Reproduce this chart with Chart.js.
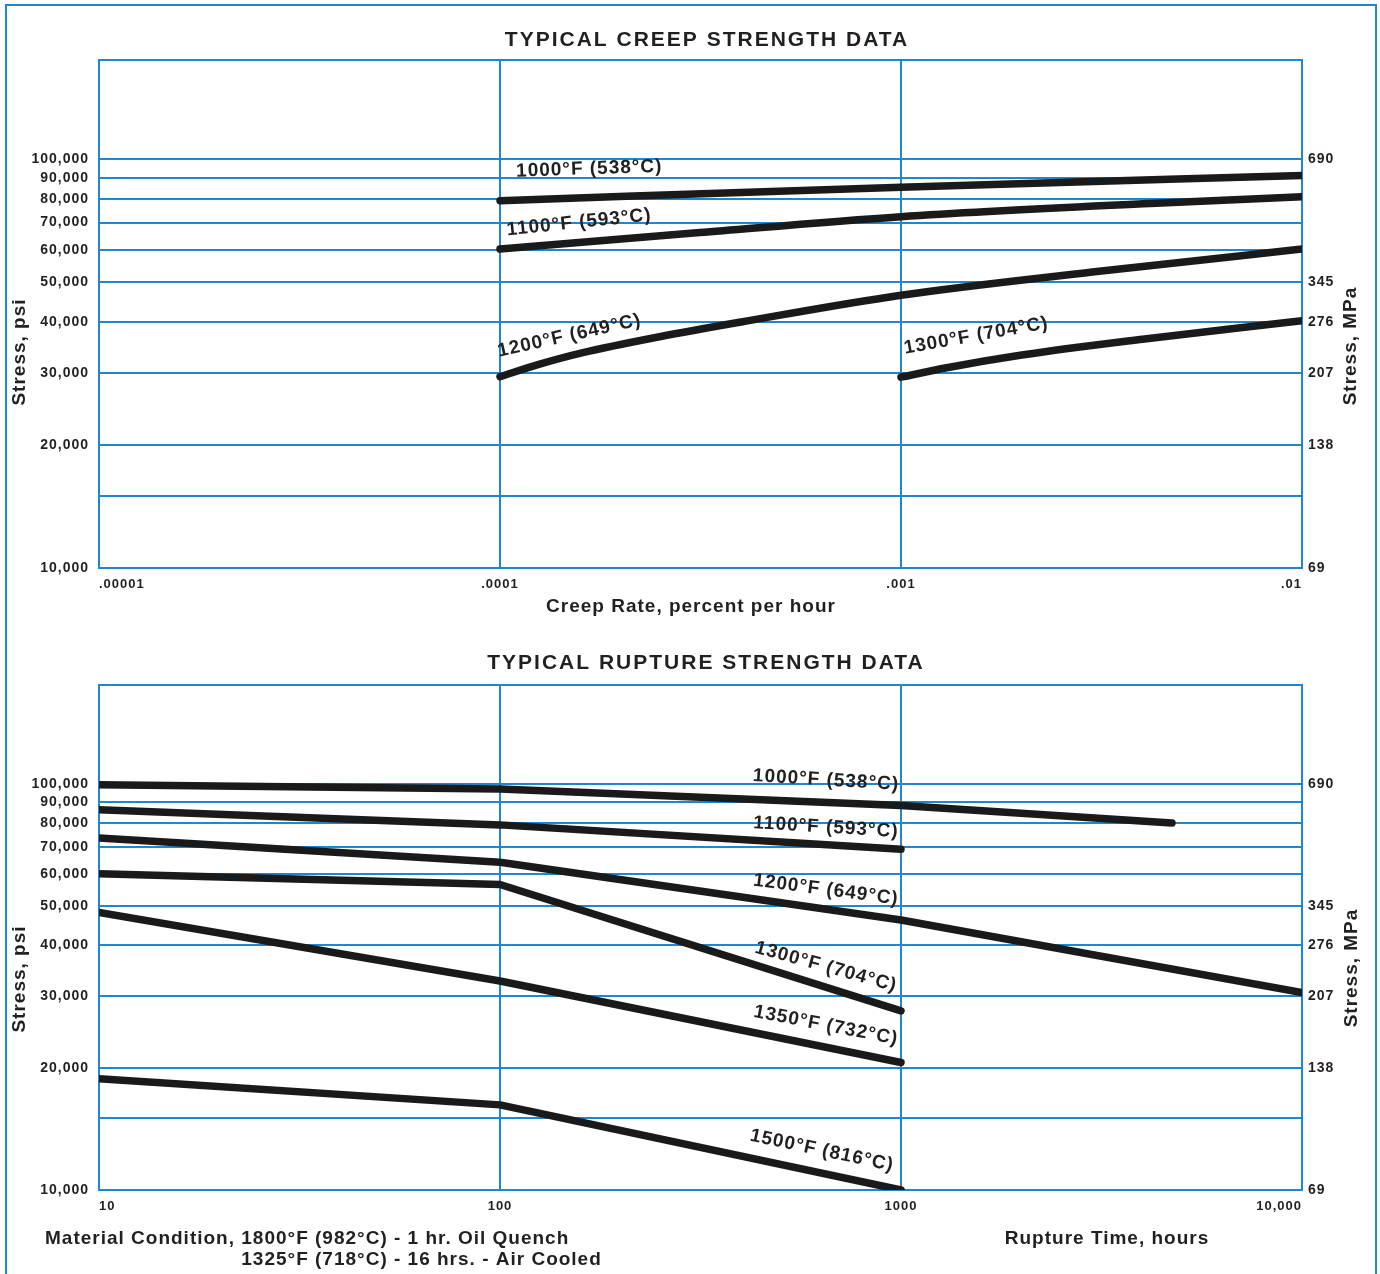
<!DOCTYPE html>
<html>
<head>
<meta charset="utf-8">
<title>Typical Creep and Rupture Strength Data</title>
<script src="https://cdn.jsdelivr.net/npm/chart.js@4.4.1/dist/chart.umd.min.js"></script>
<style>
  html, body { margin: 0; padding: 0; background: #ffffff; }
  #page { position: relative; width: 1380px; height: 1274px; overflow: hidden; background: #fff; }
  #frame { position: absolute; left: 5px; top: 4px; width: 1368px; height: 1300px; border: 2px solid #1f86d2; }
  canvas { position: absolute; left: 0; }
  #creep { top: 0; }
  #rupture { top: 630px; }
</style>
</head>
<body>
<div id="page">
  <div id="frame"></div>
  <canvas id="creep" width="1380" height="630"></canvas>
  <canvas id="rupture" width="1380" height="644"></canvas>
</div>
<script>
// ---------- axis ticks ----------
const creepRateTicks = [0.00001, 0.0001, 0.001, 0.01];
const creepRateTickLabels = ['.00001', '.0001', '.001', '.01'];
const ruptureHourTicks = [10, 100, 1000, 10000];
const ruptureHourTickLabels = ['10', '100', '1000', '10,000'];
const psiGridValues = [10000, 15000, 20000, 30000, 40000, 50000, 60000, 70000, 80000, 90000, 100000];
const psiLabelValues = [10000, 20000, 30000, 40000, 50000, 60000, 70000, 80000, 90000, 100000];
const mpaTickPsi = [10000, 20000, 30000, 40000, 50000, 100000];
const mpaTickLabels = ['69', '138', '207', '276', '345', '690'];

// ---------- creep strength: creep rate (% per hour) vs stress (psi) ----------
const creepSeriesNames = ['1000°F (538°C)', '1100°F (593°C)', '1200°F (649°C)', '1300°F (704°C)'];
const creep1000Rate = [0.0001, 0.001, 0.01];
const creep1000Psi  = [79200, 85500, 91300];
const creep1100Rate = [0.0001, 0.000315, 0.001, 0.00418, 0.01];
const creep1100Psi  = [60300, 66200, 72400, 78000, 81000];
const creep1200Rate = [0.0001, 0.000125, 0.00016, 0.00025, 0.0004, 0.001, 0.003, 0.01];
const creep1200Psi  = [29400, 31500, 33600, 36800, 40000, 46500, 53000, 60300];
const creep1300Rate = [0.001, 0.0013, 0.002, 0.004, 0.01];
const creep1300Psi  = [29300, 30900, 33200, 36300, 40300];

// curve captions, anchored in data units (rate, psi) with a tilt in degrees
const creepCaptionRate  = [0.000167, 0.0001575, 0.000149, 0.00154];
const creepCaptionPsi   = [94700, 70000, 37000, 37000];
const creepCaptionAngle = [-2, -6, -12.5, -10];

// ---------- rupture strength: rupture time (hours) vs stress (psi) ----------
const ruptureSeriesNames = ['1000°F (538°C)', '1100°F (593°C)', '1200°F (649°C)', '1300°F (704°C)', '1350°F (732°C)', '1500°F (816°C)'];
const rupture1000Hours = [10, 100, 1000, 4740];
const rupture1000Psi   = [99400, 97000, 88400, 80000];
const rupture1100Hours = [10, 100, 1000];
const rupture1100Psi   = [86300, 79200, 69000];
const rupture1200Hours = [10, 100, 1000, 10000];
const rupture1200Psi   = [73500, 64100, 46200, 30600];
const rupture1300Hours = [10, 100, 1000];
const rupture1300Psi   = [60000, 56500, 27600];
const rupture1350Hours = [10, 100, 1000];
const rupture1350Psi   = [48200, 32700, 20600];
const rupture1500Hours = [10, 100, 1000];
const rupture1500Psi   = [18800, 16200, 10000];

const ruptureCaptionHours = [650, 650, 650, 650, 650, 635];
const ruptureCaptionPsi   = [102000, 78100, 54800, 35400, 25400, 12500];
const ruptureCaptionAngle = [3.5, 3.5, 7.5, 15.5, 11, 12];

// ---------- styling ----------
const FONT = "'Liberation Sans', Arial, Helvetica, sans-serif";
const INK = '#231f20';
const GRID = '#1f86d2';
const CURVE = '#1a1a1a';

Chart.defaults.font.family = FONT;
Chart.defaults.color = INK;

const pts = (xs, ys) => xs.map((x, i) => ({ x: x, y: ys[i] }));

function curve(label, xs, ys, smooth) {
  return {
    label: label,
    data: pts(xs, ys),
    borderColor: CURVE,
    borderWidth: 7.5,
    borderCapStyle: 'round',
    borderJoinStyle: 'round',
    pointRadius: 0,
    fill: false,
    tension: 0,
    cubicInterpolationMode: smooth ? 'monotone' : 'default'
  };
}

function drawText(ctx, str, x, y, opt) {
  ctx.save();
  ctx.translate(x, y);
  if (opt.angle) ctx.rotate(opt.angle * Math.PI / 180);
  ctx.font = 'bold ' + opt.size + 'px ' + FONT;
  ctx.letterSpacing = (opt.spacing === undefined ? 1 : opt.spacing) + 'px';
  ctx.fillStyle = INK;
  ctx.textAlign = opt.align || 'center';
  ctx.textBaseline = 'middle';
  ctx.fillText(str, 0, 0);
  ctx.restore();
}

// tick labels use a slightly tracked bold face
const trackingPlugin = {
  id: 'tracking',
  beforeDraw(chart) { chart.ctx.letterSpacing = '1px'; }
};

// blue box around the plotting area
const plotFramePlugin = {
  id: 'plotFrame',
  beforeDatasetsDraw(chart) {
    const a = chart.chartArea, ctx = chart.ctx;
    ctx.save();
    ctx.strokeStyle = GRID;
    ctx.lineWidth = 2;
    ctx.strokeRect(a.left, a.top, a.right - a.left, a.bottom - a.top);
    ctx.restore();
  }
};

function captionPlugin(names, xs, ys, angles) {
  return {
    id: 'captions',
    afterDatasetsDraw(chart) {
      const sx = chart.scales.x, sy = chart.scales.y;
      names.forEach((n, i) => {
        drawText(chart.ctx, n, sx.getPixelForValue(xs[i]), sy.getPixelForValue(ys[i]),
          { size: 19, spacing: 1, angle: angles[i] });
      });
    }
  };
}

function pageTextPlugin(items) {
  return {
    id: 'pageText',
    afterDraw(chart) {
      items.forEach(t => drawText(chart.ctx, t.text, t.x, t.y, t));
    }
  };
}

function options(xMin, xMax, xTicks, xTickLabels, padTop, xAxisHeight) {
  const tickFont = { size: 14, weight: 'bold' };
  return {
    responsive: false,
    animation: false,
    devicePixelRatio: 1,
    layout: { padding: { top: padTop, left: 0, right: 0, bottom: 0 } },
    plugins: { legend: { display: false }, tooltip: { enabled: false }, title: { display: false } },
    scales: {
      x: {
        type: 'logarithmic',
        min: xMin, max: xMax,
        afterBuildTicks: s => { s.ticks = xTicks.map(v => ({ value: v })); },
        afterFit: s => { s.height = xAxisHeight; },
        ticks: {
          autoSkip: false, maxRotation: 0, minRotation: 0, align: 'inner', padding: 9,
          color: INK, font: { size: 13, weight: 'bold' },
          callback: (v) => { const i = xTicks.findIndex(t => Math.abs(t - v) / t < 1e-6); return i < 0 ? '' : xTickLabels[i]; }
        },
        grid: { color: GRID, lineWidth: 2, drawTicks: false },
        border: { display: false }
      },
      y: {
        type: 'logarithmic',
        position: 'left',
        min: 10000, max: 175000,
        afterBuildTicks: s => { s.ticks = psiGridValues.map(v => ({ value: v })); },
        afterFit: s => { s.width = 99; },
        ticks: {
          autoSkip: false, padding: 10, color: INK, font: tickFont,
          callback: (v) => psiLabelValues.includes(v) ? v.toLocaleString('en-US') : ''
        },
        grid: { color: GRID, lineWidth: 2, drawTicks: false },
        border: { display: false }
      },
      y2: {
        type: 'logarithmic',
        position: 'right',
        min: 10000, max: 175000,
        afterBuildTicks: s => { s.ticks = mpaTickPsi.map(v => ({ value: v })); },
        afterFit: s => { s.width = 78; },
        ticks: {
          autoSkip: false, padding: 6, color: INK, font: tickFont,
          callback: (v) => { const i = mpaTickPsi.indexOf(v); return i < 0 ? '' : mpaTickLabels[i]; }
        },
        grid: { display: false, drawTicks: false },
        border: { display: false }
      }
    }
  };
}

// ---------- creep strength chart ----------
new Chart(document.getElementById('creep'), {
  type: 'line',
  data: {
    datasets: [
      curve(creepSeriesNames[0], creep1000Rate, creep1000Psi, true),
      curve(creepSeriesNames[1], creep1100Rate, creep1100Psi, true),
      curve(creepSeriesNames[2], creep1200Rate, creep1200Psi, true),
      curve(creepSeriesNames[3], creep1300Rate, creep1300Psi, true)
    ]
  },
  options: options(0.00001, 0.01, creepRateTicks, creepRateTickLabels, 60, 62),
  plugins: [
    trackingPlugin,
    plotFramePlugin,
    captionPlugin(creepSeriesNames, creepCaptionRate, creepCaptionPsi, creepCaptionAngle),
    pageTextPlugin([
      { text: 'TYPICAL CREEP STRENGTH DATA', x: 707, y: 40, size: 21, spacing: 2 },
      { text: 'Stress, psi', x: 20, y: 352, size: 19, angle: -90 },
      { text: 'Stress, MPa', x: 1351, y: 346, size: 19, angle: -90 },
      { text: 'Creep Rate, percent per hour', x: 691, y: 607, size: 19 }
    ])
  ]
});

// ---------- rupture strength chart ----------
const materialLine1 = 'Material Condition, 1800°F (982°C) - 1 hr. Oil Quench';
const materialLead = 'Material Condition, ';
const materialLine2 = '1325°F (718°C) - 16 hrs. - Air Cooled';

function leadWidth() {
  const c = document.createElement('canvas').getContext('2d');
  c.font = 'bold 19px ' + FONT;
  c.letterSpacing = '1px';
  return c.measureText(materialLead).width;
}

new Chart(document.getElementById('rupture'), {
  type: 'line',
  data: {
    datasets: [
      curve(ruptureSeriesNames[0], rupture1000Hours, rupture1000Psi, false),
      curve(ruptureSeriesNames[1], rupture1100Hours, rupture1100Psi, false),
      curve(ruptureSeriesNames[2], rupture1200Hours, rupture1200Psi, false),
      curve(ruptureSeriesNames[3], rupture1300Hours, rupture1300Psi, false),
      curve(ruptureSeriesNames[4], rupture1350Hours, rupture1350Psi, false),
      curve(ruptureSeriesNames[5], rupture1500Hours, rupture1500Psi, false)
    ]
  },
  options: options(10, 10000, ruptureHourTicks, ruptureHourTickLabels, 55, 84),
  plugins: [
    trackingPlugin,
    plotFramePlugin,
    captionPlugin(ruptureSeriesNames, ruptureCaptionHours, ruptureCaptionPsi, ruptureCaptionAngle),
    pageTextPlugin([
      { text: 'TYPICAL RUPTURE STRENGTH DATA', x: 706, y: 33, size: 21, spacing: 2 },
      { text: 'Stress, psi', x: 20, y: 349, size: 19, angle: -90 },
      { text: 'Stress, MPa', x: 1352, y: 338, size: 19, angle: -90 },
      { text: 'Rupture Time, hours', x: 1107, y: 609, size: 19 },
      { text: materialLine1, x: 45, y: 609, size: 19, align: 'left' },
      { text: materialLine2, x: 45 + leadWidth(), y: 630, size: 19, align: 'left' }
    ])
  ]
});
</script>
</body>
</html>
